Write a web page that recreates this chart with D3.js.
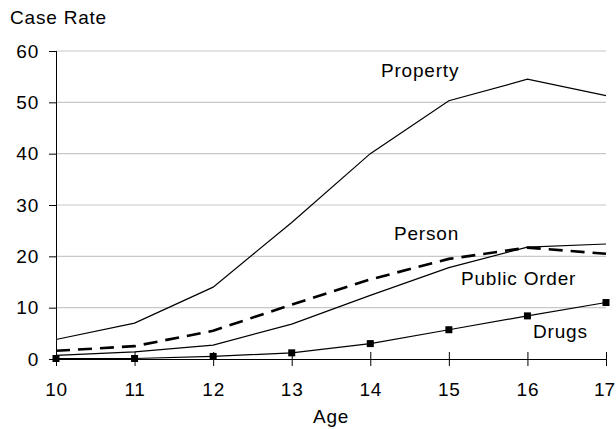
<!DOCTYPE html>
<html>
<head>
<meta charset="utf-8">
<script src="https://cdn.jsdelivr.net/npm/d3@7"></script>
<style>
  body { margin: 0; background: #fff; }
  text { font-family: "Liberation Sans", Arial, sans-serif; fill: #000; }
</style>
</head>
<body>
<div id="chart"></div>
<script>
// chart values
var ages = [10, 11, 12, 13, 14, 15, 16, 17];
var property = [3.8, 7.0, 14.0, 26.6, 40.0, 50.3, 54.5, 51.3];
var person = [1.6, 2.5, 5.5, 10.6, 15.5, 19.5, 21.7, 20.5];
var publicOrder = [0.7, 1.4, 2.7, 6.8, 12.4, 17.8, 21.8, 22.4];
var drugs = [0.1, 0.1, 0.5, 1.2, 3.0, 5.7, 8.4, 11.0];
var yTicks = [0, 10, 20, 30, 40, 50, 60];

var W = 616, H = 429;
var margin = {top: 51, right: 10, bottom: 70, left: 56};
var width = 606 - margin.left, height = 359 - margin.top;
var fontSize = "19px", spacing = "0.8px";

var svg = d3.select("#chart").append("svg")
    .attr("width", W)
    .attr("height", H);

var g = svg.append("g").attr("transform", "translate(" + margin.left + "," + margin.top + ")");

var x = d3.scaleLinear().domain([10, 17]).range([0, width]);
var y = d3.scaleLinear().domain([0, 60]).range([height, 0]);

// gridlines
g.selectAll(".grid").data(yTicks.filter(function (d) { return d > 0; }))
  .enter().append("line")
    .attr("class", "grid")
    .attr("x1", 0).attr("x2", width)
    .attr("y1", function (d) { return y(d); })
    .attr("y2", function (d) { return y(d); })
    .attr("stroke", "#c8c8c8")
    .attr("stroke-width", 1.2);

// y axis
var yAxis = g.append("g")
    .call(d3.axisLeft(y).tickValues(yTicks).tickSize(7).tickPadding(10));
yAxis.select(".domain").attr("stroke", "#000").attr("d", "M0.5," + height + "V0");
yAxis.selectAll(".tick line").attr("stroke", "#000");
yAxis.selectAll("text")
    .style("font-size", fontSize)
    .style("letter-spacing", spacing)
    .style("font-family", "Liberation Sans, Arial, sans-serif");

// x axis with ticks crossing the line
var xAxis = g.append("g")
    .attr("transform", "translate(0," + height + ")")
    .call(d3.axisBottom(x).tickValues(ages).tickFormat(d3.format("d")).tickSize(7).tickPadding(17));
xAxis.select(".domain").attr("stroke", "#000").attr("d", "M0," + 0.5 + "H" + width);
xAxis.selectAll(".tick line").attr("stroke", "#000").attr("y1", -7).attr("y2", 7);
xAxis.selectAll("text")
    .style("font-size", fontSize)
    .style("letter-spacing", spacing)
    .style("font-family", "Liberation Sans, Arial, sans-serif");
// keep the last label inside the window
xAxis.selectAll(".tick").filter(function (d) { return d === 17; })
    .select("text").attr("dx", "-2").style("letter-spacing", "0px");

var line = d3.line()
    .x(function (d, i) { return x(ages[i]); })
    .y(function (d) { return y(d); });

g.append("path").datum(property)
    .attr("d", line).attr("fill", "none").attr("stroke", "#000").attr("stroke-width", 1.2);
g.append("path").datum(publicOrder)
    .attr("d", line).attr("fill", "none").attr("stroke", "#000").attr("stroke-width", 1.2);
g.append("path").datum(person)
    .attr("d", line).attr("fill", "none").attr("stroke", "#000").attr("stroke-width", 2.6)
    .attr("stroke-dasharray", "14,8");
g.append("path").datum(drugs)
    .attr("d", line).attr("fill", "none").attr("stroke", "#000").attr("stroke-width", 1.2);

g.selectAll(".mark").data(drugs)
  .enter().append("rect")
    .attr("class", "mark")
    .attr("x", function (d, i) { return x(ages[i]) - 3.5; })
    .attr("y", function (d) { return y(d) - 3.5; })
    .attr("width", 7).attr("height", 7)
    .attr("fill", "#000");

// series labels
var labels = [
  {t: "Property", x: 381, y: 77},
  {t: "Person", x: 394, y: 240},
  {t: "Public Order", x: 461, y: 285},
  {t: "Drugs", x: 533, y: 338}
];
svg.selectAll(".lbl").data(labels)
  .enter().append("text")
    .attr("class", "lbl")
    .attr("x", function (d) { return d.x; })
    .attr("y", function (d) { return d.y; })
    .style("font-size", fontSize)
    .style("letter-spacing", spacing)
    .text(function (d) { return d.t; });

svg.append("text").attr("x", 10).attr("y", 24)
    .style("font-size", fontSize).style("letter-spacing", spacing).text("Case Rate");
svg.append("text").attr("x", 313).attr("y", 423)
    .style("font-size", fontSize).style("letter-spacing", spacing).text("Age");
</script>
</body>
</html>
